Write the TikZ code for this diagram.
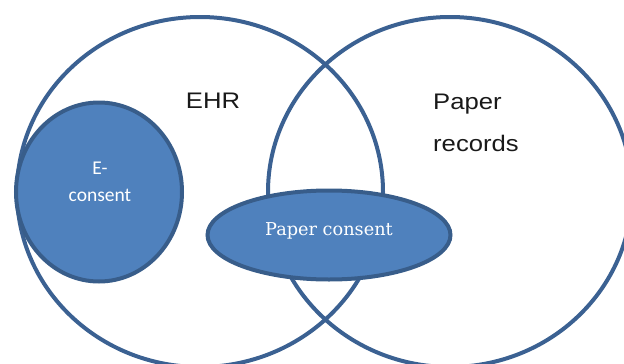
\documentclass[tikz,border=0pt]{standalone}
\usepackage{fontspec}
\setmainfont{Liberation Sans}
\newfontfamily\widesans[FakeStretch=1.14]{Liberation Sans}
\newfontfamily\calfont{Carlito}
\newfontfamily\serfont{DejaVu Serif}
\usetikzlibrary{shapes.geometric}
\definecolor{ringblue}{HTML}{3B6192}
\definecolor{fillblue}{HTML}{4F81BD}
\definecolor{edgeblue}{HTML}{385D8A}
\tikzset{
  bigring/.style={ellipse, draw=ringblue, line width=4pt, inner sep=0pt},
  blob/.style={ellipse, draw=edgeblue, fill=fillblue, line width=4pt, inner sep=0pt},
  blacktext/.style={text=black!90, font=\widesans\fontsize{22.5}{42}\selectfont, inner sep=0pt},
}
\begin{document}
\begin{tikzpicture}[x=1pt,y=-1pt]
\useasboundingbox (0,0) rectangle (624,364);
\node[bigring, minimum width=366pt, minimum height=350pt] (ehr) at (200,192) {};
\node[bigring, minimum width=364pt, minimum height=350pt] (paper) at (450,192) {};
\node[blob, minimum width=166pt, minimum height=179pt] (ec) at (99,192) {};
\node[blob, minimum width=243pt, minimum height=89pt] (pc) at (329,235) {};
\node[blacktext, anchor=center] (ehrlabel) at (213,101) {EHR};
\node[blacktext, anchor=base west, align=left] (paperlabel) at (433,151) {Paper\\records};
\node[text=white, font=\calfont\fontsize{19.5}{27}\selectfont, align=center, inner sep=0pt, anchor=base] (eclabel) at (100,201) {E-\\consent};
\node[text=white, font=\serfont\fontsize{17.7}{20}\selectfont, inner sep=0pt, anchor=base] (pclabel) at (329,235) {Paper consent};
\end{tikzpicture}
\end{document}
